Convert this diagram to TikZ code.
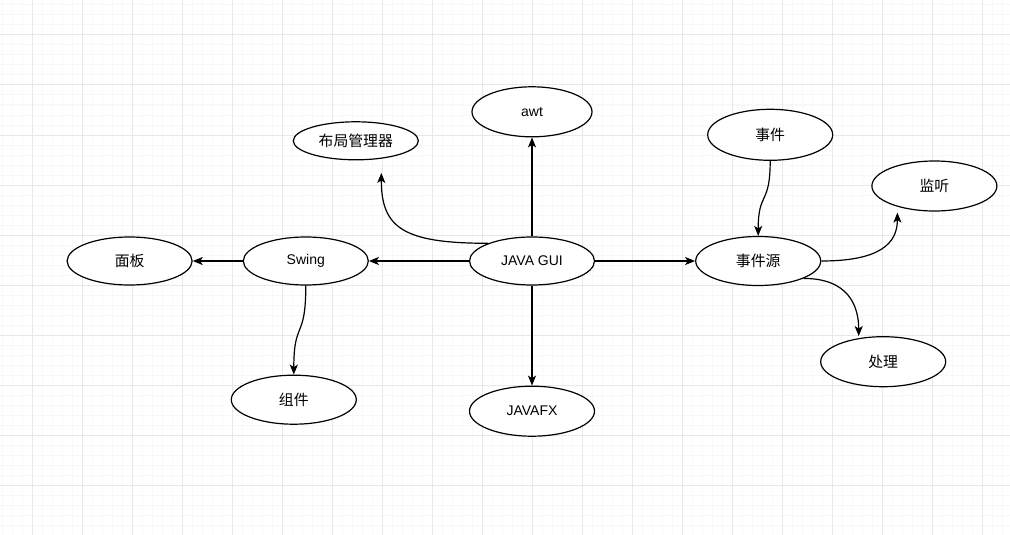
\documentclass[tikz,border=0pt]{standalone}
\usepackage{fontspec}
\setmainfont{Liberation Sans}
\newfontfamily\cjk{Noto Sans CJK SC}[Scale=1.06]
\usetikzlibrary{arrows.meta,positioning,shapes.geometric}
\definecolor{gridminor}{HTML}{F8F8F8}
\definecolor{gridmajor}{HTML}{E8E8E8}

\begin{document}
\begin{tikzpicture}[x=1pt,y=-1pt,>={Stealth[length=10pt,width=8pt,inset=2.5pt]},node distance=100pt]
  \tikzstyle{bubble}=[ellipse,draw=black,fill=white,line width=1.2pt,minimum width=125pt,minimum height=49pt,inner sep=0pt,font=\fontsize{14}{16}\selectfont]
  \tikzstyle{link}=[->,line width=1.2pt]
  \useasboundingbox (0,0) rectangle (1010,535);
  \fill[white] (0,0) rectangle (1010,535);
  % grid
  \foreach \x in {2,12,...,1002} \draw[gridminor,line width=1pt] (\x,0) -- (\x,535);
  \foreach \y in {5,15,...,535} \draw[gridminor,line width=1pt] (0,\y) -- (1010,\y);
  \foreach \x in {32,82,...,982} \draw[gridmajor,line width=1pt] (\x,0) -- (\x,535);
  \foreach \y in {35,85,...,535} \draw[gridmajor,line width=1pt] (0,\y) -- (1010,\y);
  % nodes
  \node[bubble,minimum height=48pt] (gui) at (532,261) {JAVA GUI};
  \node[bubble,above=99pt of gui,minimum width=120pt,minimum height=50pt] (awt) {awt};
  \node[bubble,below=100pt of gui,minimum height=50pt] (fx) {JAVAFX};
  \node[bubble,left=of gui,minimum height=48pt] (swing) {Swing};
  \node[bubble,left=50pt of swing,minimum height=48pt] (panel) {\cjk 面板};
  \node[bubble,below=89pt of swing,xshift=-12pt] (comp) {\cjk 组件};
  \node[bubble,above=76pt of swing,xshift=50pt,minimum height=38pt] (layout) {\cjk 布局管理器};
  \node[bubble,right=of gui] (evsrc) {\cjk 事件源};
  \node[bubble,above=75pt of evsrc,xshift=12pt,minimum height=51pt] (event) {\cjk 事件};
  \node[bubble,right=50pt of evsrc,yshift=75pt,minimum height=50pt] (listen) {\cjk 监听};
  \node[bubble,below=50pt of evsrc,xshift=125pt,minimum height=50pt] (proc) {\cjk 处理};
  \coordinate (layoutend) at ([xshift=25.5pt,yshift=-12.5pt]layout.south);
  \coordinate (listenend) at ([xshift=-37pt,yshift=-1pt]listen.south);
  \coordinate (procend) at ([xshift=-24.5pt]proc.north);
  % connectors
  \draw[link] (gui.north)--(awt.south);
  \draw[link] (gui.south)--(fx.north);
  \draw[link] (gui.west)--(swing.east);
  \draw[link] (swing.west)--(panel.east);
  \draw[link] (gui.east)--(evsrc.west);
  \draw[link] (gui.158) .. controls +(-85,0) and +(0,55) .. (layoutend);
  \draw[link] (swing.south) .. controls +(0,55) and +(0,-55) .. (comp.north);
  \draw[link] (event.south) .. controls +(0,45) and +(0,-45) .. (evsrc.north);
  \draw[link] (evsrc.east) .. controls +(60,0) and +(0,30) .. (listenend);
  \draw[link] (evsrc.339) .. controls +(45,0) and +(0,-30) .. (procend);
\end{tikzpicture}
\end{document}
